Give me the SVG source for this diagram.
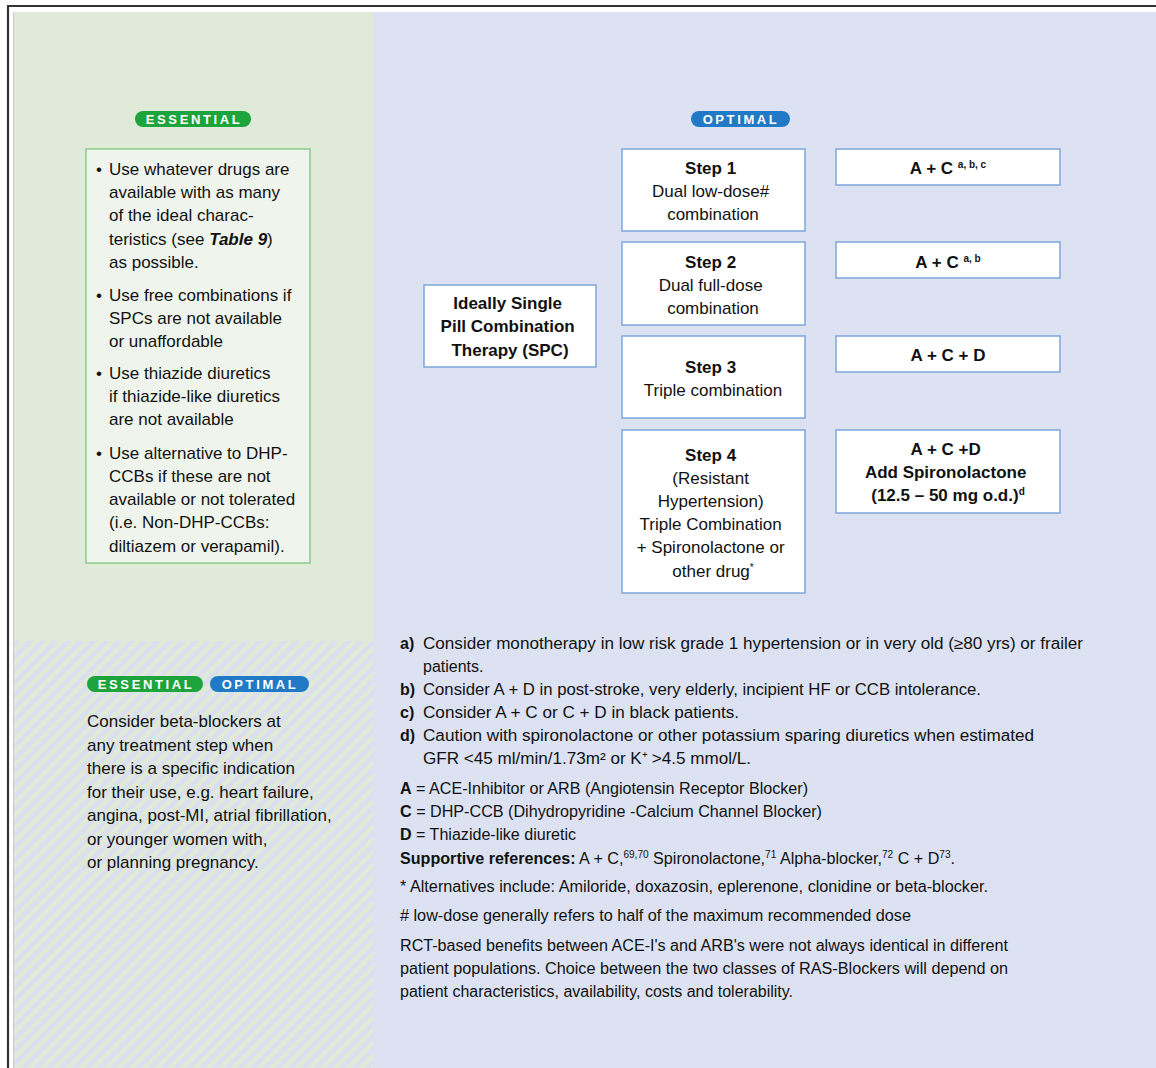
<svg xmlns="http://www.w3.org/2000/svg" width="1156" height="1068" viewBox="0 0 1156 1068">
<defs>
<pattern id="hatch" patternUnits="userSpaceOnUse" width="9" height="9" patternTransform="rotate(45)">
<rect x="0" y="0" width="9" height="9" fill="#dae0f0"/>
<rect x="0" y="0" width="4.5" height="9" fill="#e0ead6"/>
</pattern>
<style>
.t{font-family:"Liberation Sans",Arial,sans-serif;fill:#111;}
.box{font-size:17px;}
.b{font-weight:bold;}
.badge{font-family:"Liberation Sans",Arial,sans-serif;font-weight:bold;font-size:13px;fill:#fff;letter-spacing:2.6px;}
.node{fill:#fff;stroke:#7ea6da;stroke-width:1.5;}
.fn{font-size:16px;}
.sup{font-size:10px;}
</style>
</defs>
<rect x="0" y="0" width="1156" height="1068" fill="#fff"/>
<rect x="14" y="12" width="359" height="629" fill="#dfead8"/>
<rect x="14" y="641" width="359" height="427" fill="url(#hatch)"/>
<rect x="373" y="12" width="783" height="1056" fill="#dce2f1"/>
<path d="M8 1068 V6 H1156" fill="none" stroke="#333" stroke-width="2.2"/>
<path d="M13.5 1068 V12" fill="none" stroke="#c8c8c8" stroke-width="1"/>

<g id="badge-essential">
<rect x="135" y="111" width="116" height="16" rx="8" fill="#1ea43c"/>
<text class="badge" x="194" y="124" text-anchor="middle">ESSENTIAL</text>
</g>
<g id="badge-optimal">
<rect x="691" y="111" width="99" height="16" rx="8" fill="#2279c6"/>
<text class="badge" x="741" y="124" text-anchor="middle">OPTIMAL</text>
</g>

<g id="essential-box">
<rect x="86" y="149" width="224" height="414" fill="#eff5ec" stroke="#8fcb8c" stroke-width="1.5"/>
<text class="t box">
<tspan x="96" y="175">•</tspan><tspan x="109" y="175">Use whatever drugs are</tspan>
<tspan x="109" y="198">available with as many</tspan>
<tspan x="109" y="221">of the ideal charac-</tspan>
<tspan x="109" y="245">teristics (see <tspan class="b" font-style="italic">Table 9</tspan>)</tspan>
<tspan x="109" y="268">as possible.</tspan>
<tspan x="96" y="301">•</tspan><tspan x="109" y="301">Use free combinations if</tspan>
<tspan x="109" y="324">SPCs are not available</tspan>
<tspan x="109" y="347">or unaffordable</tspan>
<tspan x="96" y="379">•</tspan><tspan x="109" y="379">Use thiazide diuretics</tspan>
<tspan x="109" y="402">if thiazide-like diuretics</tspan>
<tspan x="109" y="425">are not available</tspan>
<tspan x="96" y="459">•</tspan><tspan x="109" y="459">Use alternative to DHP-</tspan>
<tspan x="109" y="482">CCBs if these are not</tspan>
<tspan x="109" y="505">available or not tolerated</tspan>
<tspan x="109" y="528">(i.e. Non-DHP-CCBs:</tspan>
<tspan x="109" y="552">diltiazem or verapamil).</tspan>
</text>
</g>

<g id="beta-blockers">
<rect x="87" y="676" width="116" height="16" rx="8" fill="#1ea43c"/>
<text class="badge" x="146" y="689" text-anchor="middle">ESSENTIAL</text>
<rect x="210" y="676" width="99" height="16" rx="8" fill="#2279c6"/>
<text class="badge" x="260" y="689" text-anchor="middle">OPTIMAL</text>
<text class="t box">
<tspan x="87" y="727">Consider beta-blockers at</tspan>
<tspan x="87" y="751">any treatment step when</tspan>
<tspan x="87" y="774">there is a specific indication</tspan>
<tspan x="87" y="798">for their use, e.g. heart failure,</tspan>
<tspan x="87" y="821">angina, post-MI, atrial fibrillation,</tspan>
<tspan x="87" y="845">or younger women with,</tspan>
<tspan x="87" y="868">or planning pregnancy.</tspan>
</text>
</g>

<g id="spc">
<rect class="node" x="424" y="285" width="172" height="82"/>
<text class="t box b" text-anchor="middle">
<tspan x="510" y="309">Ideally Single</tspan>
<tspan x="510" y="332">Pill Combination</tspan>
<tspan x="510" y="356">Therapy (SPC)</tspan>
</text>
</g>

<g id="step1">
<rect class="node" x="622" y="149" width="183" height="82"/>
<text class="t box" text-anchor="middle">
<tspan x="713" y="174" class="b">Step 1</tspan>
<tspan x="713" y="197">Dual low-dose#</tspan>
<tspan x="713" y="220">combination</tspan>
</text>
</g>
<g id="step2">
<rect class="node" x="622" y="242" width="183" height="83"/>
<text class="t box" text-anchor="middle">
<tspan x="713" y="268" class="b">Step 2</tspan>
<tspan x="713" y="291">Dual full-dose</tspan>
<tspan x="713" y="314">combination</tspan>
</text>
</g>
<g id="step3">
<rect class="node" x="622" y="336" width="183" height="82"/>
<text class="t box" text-anchor="middle">
<tspan x="713" y="373" class="b">Step 3</tspan>
<tspan x="713" y="396">Triple combination</tspan>
</text>
</g>
<g id="step4">
<rect class="node" x="622" y="430" width="183" height="163"/>
<text class="t box" text-anchor="middle">
<tspan x="713" y="461" class="b">Step 4</tspan>
<tspan x="713" y="484">(Resistant</tspan>
<tspan x="713" y="507">Hypertension)</tspan>
<tspan x="713" y="530">Triple Combination</tspan>
<tspan x="713" y="553">+ Spironolactone or</tspan>
<tspan x="713" y="577">other drug<tspan class="sup" dy="-6">*</tspan></tspan>
</text>
</g>

<g id="combo1">
<rect class="node" x="836" y="149" width="224" height="36"/>
<text class="t box b" x="948" y="174" text-anchor="middle">A + C <tspan class="sup" dy="-6">a, b, c</tspan></text>
</g>
<g id="combo2">
<rect class="node" x="836" y="242" width="224" height="36"/>
<text class="t box b" x="948" y="268" text-anchor="middle">A + C <tspan class="sup" dy="-6">a, b</tspan></text>
</g>
<g id="combo3">
<rect class="node" x="836" y="336" width="224" height="36"/>
<text class="t box b" x="948" y="361" text-anchor="middle">A + C + D</text>
</g>
<g id="combo4">
<rect class="node" x="836" y="430" width="224" height="83"/>
<text class="t box b" text-anchor="middle">
<tspan x="948" y="455">A + C +D</tspan>
<tspan x="948" y="478">Add Spironolactone</tspan>
<tspan x="948" y="501">(12.5 – 50 mg o.d.)<tspan class="sup" dy="-6">d</tspan></tspan>
</text>
</g>

<g id="connectors"></g>

<g id="footnotes" class="t fn">
<text x="400" y="649"><tspan class="b">a)</tspan></text>
<text x="423" y="649" textLength="660" lengthAdjust="spacingAndGlyphs">Consider monotherapy in low risk grade 1 hypertension or in very old (≥80 yrs) or frailer</text>
<text x="423" y="672">patients.</text>
<text x="400" y="695"><tspan class="b">b)</tspan></text>
<text x="423" y="695" textLength="558" lengthAdjust="spacingAndGlyphs">Consider A + D in post-stroke, very elderly, incipient HF or CCB intolerance.</text>
<text x="400" y="718"><tspan class="b">c)</tspan></text>
<text x="423" y="718" textLength="316" lengthAdjust="spacingAndGlyphs">Consider A + C or C + D in black patients.</text>
<text x="400" y="741"><tspan class="b">d)</tspan></text>
<text x="423" y="741" textLength="611" lengthAdjust="spacingAndGlyphs">Caution with spironolactone or other potassium sparing diuretics when estimated</text>
<text x="423" y="764" textLength="328" lengthAdjust="spacingAndGlyphs">GFR &lt;45 ml/min/1.73m² or K⁺ &gt;4.5 mmol/L.</text>

<text x="400" y="794" textLength="408" lengthAdjust="spacingAndGlyphs"><tspan class="b">A</tspan> = ACE-Inhibitor or ARB (Angiotensin Receptor Blocker)</text>
<text x="400" y="817" textLength="422" lengthAdjust="spacingAndGlyphs"><tspan class="b">C</tspan> = DHP-CCB (Dihydropyridine -Calcium Channel Blocker)</text>
<text x="400" y="840" textLength="176" lengthAdjust="spacingAndGlyphs"><tspan class="b">D</tspan> = Thiazide-like diuretic</text>
<text x="400" y="864" textLength="555" lengthAdjust="spacingAndGlyphs"><tspan class="b">Supportive references:</tspan> A + C,<tspan class="sup" dy="-6">69,70</tspan><tspan dy="6"> Spironolactone,</tspan><tspan class="sup" dy="-6">71</tspan><tspan dy="6"> Alpha-blocker,</tspan><tspan class="sup" dy="-6">72</tspan><tspan dy="6"> C + D</tspan><tspan class="sup" dy="-6">73</tspan><tspan dy="6">.</tspan></text>

<text x="400" y="892" textLength="588" lengthAdjust="spacingAndGlyphs">*  Alternatives include: Amiloride, doxazosin, eplerenone, clonidine or beta-blocker.</text>
<text x="400" y="921" textLength="511" lengthAdjust="spacingAndGlyphs"># low-dose generally refers to half of the maximum recommended dose</text>
<text x="400" y="951" textLength="608" lengthAdjust="spacingAndGlyphs">RCT-based benefits between ACE-I's and ARB's were not always identical in different</text>
<text x="400" y="974" textLength="608" lengthAdjust="spacingAndGlyphs">patient populations.  Choice between the two classes of RAS-Blockers will depend on</text>
<text x="400" y="997" textLength="393" lengthAdjust="spacingAndGlyphs">patient characteristics, availability, costs and tolerability.</text>
</g>
</svg>
